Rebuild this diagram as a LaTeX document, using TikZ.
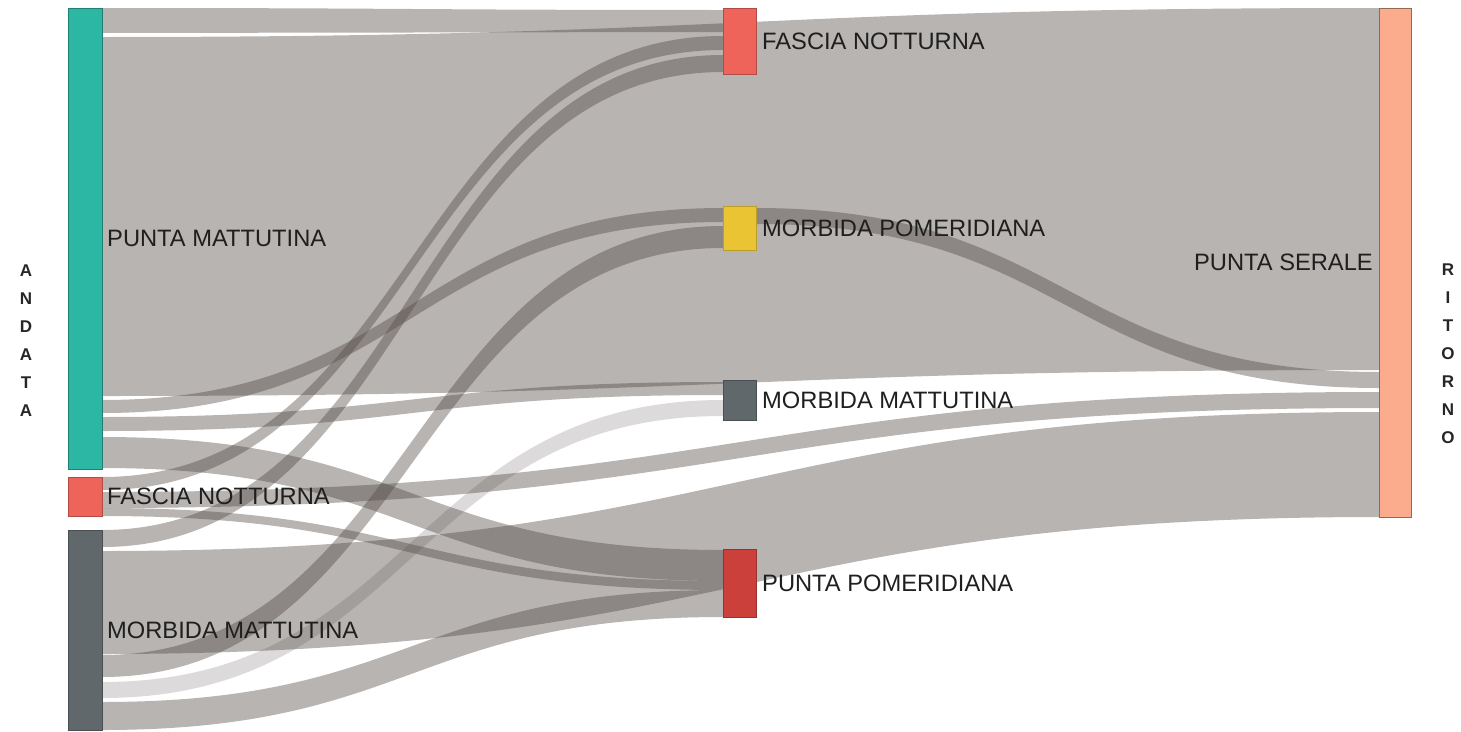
\documentclass[tikz,border=0pt]{standalone}
\usepackage{fontspec}
\setmainfont{Liberation Sans}
\usetikzlibrary{calc,positioning}
\pgfdeclarelayer{bg}
\pgfsetlayers{bg,main}
\definecolor{flowc}{RGB}{80,72,68}
\definecolor{tealn}{RGB}{44,182,164}
\definecolor{redn}{RGB}{238,100,90}
\definecolor{slaten}{RGB}{96,104,108}
\definecolor{yellown}{RGB}{234,196,50}
\definecolor{darkredn}{RGB}{204,64,60}
\definecolor{salmonn}{RGB}{250,172,140}
\tikzset{
  flow_g/.style = {fill=flowc, fill opacity=0.41},
  flow_l/.style = {fill=flowc, fill opacity=0.2},
  box/.style = {rectangle, inner sep=0pt, outer sep=0pt, line width=0.7pt},
  box_l/.style = {box, minimum width=34pt},
  box_m/.style = {box, minimum width=33pt},
  box_r/.style = {box, minimum width=32pt},
  lbl/.style = {inner sep=0pt, text=black!88, font=\fontsize{23.7}{26}\selectfont},
  axis_lbl/.style = {inner sep=0pt, align=center, text=black!85, font=\bfseries\fontsize{17}{28}\selectfont}
}
\newcommand{\sflow}[7][flow_g]{%
  \path ($(#2.north east)+(0,#3)$) coordinate (s1)
        ($(#2.north east)+(0,#4)$) coordinate (s2)
        ($(#5.north west)+(0,#6)$) coordinate (t1)
        ($(#5.north west)+(0,#7)$) coordinate (t2)
        ($(s1)!.5!(t1)$) coordinate (mid);
  \fill[#1] (s1) .. controls (mid |- s1) and (mid |- t1) .. (t1)
    -- (t2) .. controls (mid |- t2) and (mid |- s2) .. (s2) -- cycle;}

\begin{document}
\begin{tikzpicture}[x=1pt,y=-1pt]
	\useasboundingbox (0,0) rectangle (1461,731);
	\node [box_l, fill=tealn, draw=tealn!70!black, minimum height=461pt] (pm_l) at (85,238.5) {};
	\node [box_l, fill=redn, draw=redn!75!black, minimum height=39pt] (fn_l) at (85,496.5) {};
	\node [box_l, fill=slaten, draw=slaten!75!black, minimum height=200pt] (mm_l) at (85,630) {};
	\node [box_m, fill=redn, draw=redn!75!black, minimum height=66pt] (fn_m) at (739.5,41) {};
	\node [box_m, fill=yellown, draw=yellown!80!black, minimum height=44pt] (mp_m) at (739.5,228) {};
	\node [box_m, fill=slaten, draw=slaten!75!black, minimum height=40pt] (mm_m) at (739.5,400) {};
	\node [box_m, fill=darkredn, draw=darkredn!75!black, minimum height=68pt] (pp_m) at (739.5,583) {};
	\node [box_r, fill=salmonn, draw=salmonn!60!black, minimum height=509pt] (ps_r) at (1395,262.5) {};

	\begin{pgfonlayer}{bg}
		\sflow{pm_l}{0}{25}{fn_m}{2}{24}
		\sflow{pm_l}{29}{388}{ps_r}{0}{362}
		\sflow{pm_l}{392}{405}{mp_m}{2}{16}
		\sflow{pm_l}{409}{423}{mm_m}{2}{15}
		\sflow{pm_l}{429}{460}{pp_m}{1}{32}
		\sflow{fn_l}{0}{13}{fn_m}{28}{42}
		\sflow{fn_l}{15}{31}{ps_r}{384}{400}
		\sflow{fn_l}{31}{39}{pp_m}{32}{41}
		\sflow{mm_l}{0}{17}{fn_m}{47}{64}
		\sflow{mm_l}{21}{124}{ps_r}{404}{509}
		\sflow{mm_l}{125}{147}{mp_m}{20}{42}
		\sflow[flow_l]{mm_l}{152}{168}{mm_m}{20}{36}
		\sflow{mm_l}{172}{200}{pp_m}{41}{68}
		\sflow{mp_m}{2}{18}{ps_r}{364}{380}
	\end{pgfonlayer}

	\node [lbl, right=5pt of pm_l.east] {PUNTA MATTUTINA};
	\node [lbl, right=5pt of fn_l.east] {FASCIA NOTTURNA};
	\node [lbl, right=5pt of mm_l.east] {MORBIDA MATTUTINA};
	\node [lbl, right=6pt of fn_m.east] {FASCIA NOTTURNA};
	\node [lbl, right=6pt of mp_m.east] {MORBIDA POMERIDIANA};
	\node [lbl, right=6pt of mm_m.east] {MORBIDA MATTUTINA};
	\node [lbl, right=6pt of pp_m.east] {PUNTA POMERIDIANA};
	\node [lbl, left=6pt of ps_r.west] {PUNTA SERALE};
	\node [axis_lbl] (andata) at (26,341) {A\\N\\D\\A\\T\\A};
	\node [axis_lbl] (ritorno) at (1448,354) {R\\I\\T\\O\\R\\N\\O};
\end{tikzpicture}
\end{document}
